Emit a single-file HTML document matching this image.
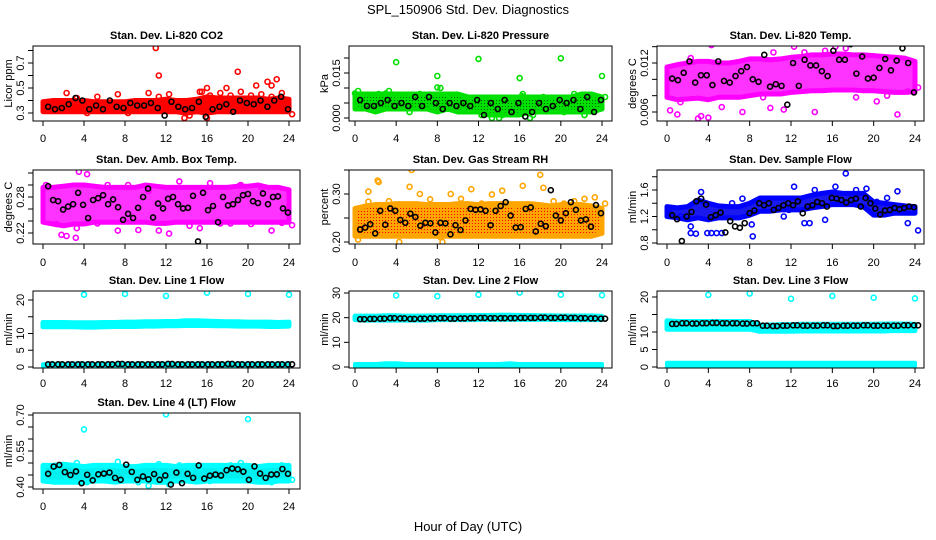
<!DOCTYPE html>
<html><head><meta charset="utf-8"><style>
body{margin:0;background:#fff;width:936px;height:540px;overflow:hidden}
svg{display:block;font-family:"Liberation Sans",sans-serif}
</style></head><body>
<svg id="chart" width="936" height="540" viewBox="0 0 936 540" xmlns="http://www.w3.org/2000/svg">
<defs>
<pattern id="pat-rh" width="3" height="3" patternUnits="userSpaceOnUse"><rect width="3" height="3" fill="#ffa500"/><rect x="1" y="1" width="1" height="1" fill="#ff0000"/></pattern>
<pattern id="pat-pr" width="3" height="3" patternUnits="userSpaceOnUse"><rect width="3" height="3" fill="#00e000"/><rect x="1" y="1" width="1" height="1" fill="#006600"/></pattern>
</defs>
<text x="468" y="14" text-anchor="middle" font-size="13">SPL_150906  Std. Dev. Diagnostics</text>
<text x="468" y="531" text-anchor="middle" font-size="13">Hour of Day (UTC)</text>
</svg>
<script>
const xTicks=[0,4,8,12,16,20,24];
// CO2
const co2Lo=[0.31,0.31,0.31,0.31,0.31,0.31,0.31,0.31,0.31,0.31,0.31,0.31,0.31,0.31,0.30,0.31,0.30,0.31,0.31,0.31,0.31,0.31,0.31,0.31,0.31];
const co2Hi=[0.39,0.40,0.40,0.40,0.40,0.39,0.39,0.39,0.39,0.40,0.40,0.40,0.41,0.40,0.40,0.41,0.43,0.42,0.42,0.42,0.42,0.42,0.41,0.42,0.41];
const co2Pts=[0.37,0.33,0.46,0.42,0.30,0.43,0.34,0.45,0.30,0.36,0.46,0.43,0.45,0.38,0.28,0.47,0.44,0.46,0.44,0.47,0.44,0.45,0.43,0.46,0.29];
const co2Out=[[11,0.82],[11.3,0.60],[19,0.63],[20.8,0.52],[21.9,0.55],[22.8,0.57],[13.8,0.26],[16,0.26],[15.5,0.47],[16,0.50],[17.9,0.50],[22.3,0.52]];
const co2Blk=[0.35,0.33,0.34,0.37,0.42,0.40,0.33,0.36,0.33,0.40,0.35,0.34,0.38,0.36,0.36,0.38,0.34,0.28,0.39,0.35,0.33,0.34,0.39,0.27,0.33,0.35,0.37,0.31,0.40,0.38,0.37,0.40,0.35,0.40,0.43,0.33];
// Pressure
const prLo=[0.003,0.003,0.002,0.003,0.003,0.003,0.003,0.003,0.002,0.003,0.002,0.002,0.002,0.001,0.001,0.001,0.001,0.002,0.002,0.002,0.002,0.002,0.002,0.002,0.003];
const prHi=[0.008,0.008,0.008,0.008,0.008,0.008,0.008,0.008,0.008,0.008,0.008,0.007,0.007,0.007,0.007,0.007,0.007,0.007,0.007,0.007,0.007,0.007,0.008,0.008,0.007];
const prPts=[0.009,0.004,0.008,0.009,0.007,0.002,0.008,0.003,0.010,0.007,0.003,0.006,0.001,0.000,0.001,0.005,0.008,0.001,0.007,0.006,0.002,0.008,0.001,0.007,0.007];
const prOut=[[4,0.0186],[8,0.0140],[8,0.0102],[12,0.0197],[16,0.0133],[16.2,0.0073],[20,0.0199],[24,0.0140],[0,0.0082],[3,0.0082],[14,0.0000],[17,0.0000]];
const prBlk=[0.006,0.004,0.004,0.005,0.006,0.004,0.005,0.004,0.007,0.004,0.007,0.005,0.003,0.005,0.004,0.005,0.004,0.006,0.001,0.005,0.003,0.006,0.002,0.005,0.0005,0.002,0.005,0.003,0.004,0.006,0.005,0.006,0.003,0.007,0.002,0.006];
// Li-820 temp
const tLo=[0.0078,0.0075,0.0076,0.0077,0.0075,0.0078,0.0078,0.0078,0.0080,0.0082,0.0082,0.0082,0.0084,0.0085,0.0086,0.0086,0.0087,0.0087,0.0087,0.0086,0.0086,0.0085,0.0084,0.0084,0.0085];
const tHi=[0.0115,0.0118,0.0120,0.0122,0.0122,0.0120,0.0120,0.0122,0.0125,0.0125,0.0124,0.0125,0.0127,0.0128,0.0130,0.0130,0.0131,0.0131,0.0130,0.0130,0.0129,0.0128,0.0127,0.0126,0.0122];
const tPts=[0.0062,0.0072,0.0126,0.0055,0.0142,0.0066,0.0145,0.0060,0.0147,0.0078,0.0133,0.0063,0.0140,0.0133,0.0060,0.0135,0.0140,0.0138,0.0078,0.0145,0.0073,0.0080,0.0057,0.0085,0.0090];
const tOut=[[3,0.0052],[4,0.0053],[1,0.0057],[10,0.0065]];
const tBlk=[0.0101,0.0099,0.0108,0.0122,0.0096,0.0105,0.0105,0.0093,0.0122,0.0098,0.0096,0.0104,0.0110,0.0115,0.0100,0.0097,0.0130,0.0091,0.0094,0.0092,0.0069,0.0120,0.0092,0.0124,0.0117,0.0117,0.0110,0.0104,0.0135,0.0124,0.0124,0.0143,0.0107,0.0128,0.0101,0.0102,0.0114,0.0125,0.0111,0.0123,0.0138,0.0120,0.0084];
// Amb box temp
const abLo=[0.238,0.235,0.232,0.235,0.235,0.238,0.238,0.238,0.238,0.238,0.238,0.236,0.236,0.238,0.238,0.238,0.238,0.238,0.238,0.238,0.238,0.238,0.238,0.238,0.238];
const abHi=[0.296,0.296,0.298,0.300,0.300,0.298,0.296,0.296,0.296,0.296,0.300,0.298,0.296,0.296,0.296,0.296,0.296,0.296,0.296,0.298,0.298,0.300,0.296,0.296,0.292];
const abPts=[0.300,0.235,0.215,0.228,0.318,0.236,0.300,0.224,0.300,0.225,0.290,0.224,0.219,0.306,0.232,0.228,0.303,0.236,0.236,0.300,0.235,0.296,0.224,0.237,0.233];
const abOut=[[3.5,0.322],[3.2,0.212],[1.8,0.217],[19.2,0.299]];
const abBlk=[0.298,0.275,0.273,0.259,0.264,0.268,0.287,0.267,0.245,0.275,0.278,0.283,0.268,0.276,0.263,0.242,0.252,0.245,0.262,0.280,0.294,0.246,0.269,0.261,0.277,0.280,0.268,0.261,0.262,0.282,0.206,0.287,0.258,0.265,0.238,0.280,0.266,0.268,0.275,0.283,0.285,0.273,0.270,0.286,0.268,0.280,0.281,0.261,0.254];
// RH
const rhLo=[0.212,0.212,0.212,0.212,0.212,0.212,0.212,0.212,0.212,0.212,0.212,0.212,0.212,0.212,0.212,0.212,0.212,0.212,0.212,0.212,0.212,0.212,0.212,0.212,0.218];
const rhHi=[0.270,0.275,0.278,0.278,0.280,0.280,0.280,0.278,0.278,0.278,0.280,0.280,0.278,0.280,0.280,0.280,0.280,0.280,0.278,0.275,0.278,0.278,0.278,0.275,0.270];
const rhPts=[0.205,0.284,0.325,0.285,0.200,0.315,0.300,0.289,0.210,0.300,0.290,0.310,0.280,0.299,0.307,0.270,0.317,0.275,0.313,0.285,0.280,0.285,0.290,0.293,0.280];
const rhOut=[[5.5,0.350],[1.3,0.305],[2.2,0.328],[18,0.340],[8.5,0.200]];
const rhBlk=[0.226,0.230,0.237,0.218,0.265,0.236,0.270,0.265,0.246,0.240,0.259,0.252,0.234,0.240,0.239,0.220,0.240,0.239,0.216,0.235,0.225,0.245,0.269,0.267,0.268,0.265,0.235,0.265,0.275,0.283,0.255,0.230,0.231,0.269,0.272,0.222,0.238,0.233,0.308,0.255,0.245,0.260,0.283,0.267,0.245,0.247,0.232,0.277,0.260];
// Sample flow
const sfLo=[1.20,1.18,1.15,1.18,1.15,1.18,1.18,1.18,1.22,1.28,1.28,1.30,1.30,1.30,1.33,1.35,1.38,1.38,1.38,1.35,1.22,1.22,1.25,1.25,1.25];
const sfHi=[1.35,1.33,1.35,1.45,1.40,1.36,1.35,1.35,1.40,1.48,1.48,1.48,1.48,1.48,1.52,1.55,1.57,1.55,1.55,1.55,1.42,1.40,1.38,1.36,1.35];
const sfPts=[1.25,1.20,0.95,1.57,0.95,0.95,1.40,1.47,0.90,1.45,1.30,1.20,1.65,1.10,1.60,1.15,1.65,1.85,1.60,1.62,1.42,1.48,1.58,1.10,0.99];
const sfOut=[[2.3,1.05],[2.8,0.94],[4.8,0.95],[3.9,0.95],[8.2,1.08],[13.8,1.10],[11.8,1.30]];
const sfBlk=[1.22,1.16,0.83,1.20,1.27,1.43,1.47,1.38,1.19,1.22,1.26,0.96,1.13,1.05,1.03,1.10,1.25,1.29,1.40,1.37,1.40,1.30,1.33,1.37,1.40,1.37,1.43,1.25,1.35,1.37,1.42,1.40,1.35,1.48,1.47,1.45,1.41,1.45,1.47,1.35,1.48,1.40,1.32,1.23,1.29,1.30,1.33,1.31,1.33,1.35,1.34];
// Line 1
const l1Lo=[12.0,12.0,12.0,12.0,11.9,11.9,12.0,12.1,12.1,12.1,12.2,12.2,12.3,12.3,12.4,12.4,12.4,12.3,12.3,12.2,12.2,12.2,12.1,12.1,12.2];
const l1Hi=[13.3,13.3,13.3,13.2,13.2,13.2,13.3,13.3,13.4,13.4,13.5,13.5,13.6,13.6,13.8,13.8,13.7,13.6,13.5,13.5,13.4,13.4,13.4,13.3,13.4];
const l1Low=[0.8,1.0,0.9,1.0,1.0,0.9,1.0,1.0,1.0,1.0,1.0,1.0,1.0,1.0,1.0,1.0,1.0,1.0,1.0,1.0,1.0,1.0,1.0,1.0,1.0];
const l1Out=[[4,21.6],[8,21.8],[12,21.2],[16,22.2],[20,21.8],[24,21.6]];
const l1Blk=[0.8,0.8,0.8,0.8,0.8,0.8,0.8,0.9,0.8,0.8,0.8,0.8,0.9,0.8,0.8,0.8,0.8,0.8,0.9,0.8,0.8,0.8,0.8,0.8,0.8];
// Line 2
const l2Lo=[19.2,19.0,19.0,19.0,19.0,19.0,19.0,19.0,19.2,19.2,19.2,19.2,19.3,19.3,19.3,19.3,19.3,19.3,19.3,19.3,19.2,19.2,19.2,19.2,19.2];
const l2Hi=[20.6,20.6,20.6,20.8,20.8,20.6,20.6,20.7,20.8,20.8,20.8,20.8,20.9,20.9,21.0,21.0,20.9,20.9,20.8,20.8,20.7,20.7,20.7,20.7,20.5];
const l2Low=[1.2,1.2,1.2,1.5,1.5,1.2,1.2,1.2,1.2,1.2,1.2,1.2,1.2,1.2,1.2,1.5,1.2,1.2,1.2,1.2,1.2,1.2,1.2,1.2,1.2];
const l2Out=[[4,29.0],[8,28.7],[12,29.3],[16,30.2],[20,29.3],[24,29.1]];
const l2Blk=[19.4,19.5,19.6,19.8,19.7,19.5,19.6,19.7,19.8,19.6,19.7,19.8,19.9,19.8,19.8,19.8,19.9,19.9,20.0,19.9,20.0,19.9,19.8,19.7,19.6];
// Line 3
const l3Lo=[10.8,10.8,10.8,10.8,10.8,10.8,10.8,10.8,10.8,10.2,10.2,10.2,10.2,10.3,10.3,10.3,10.3,10.3,10.3,10.3,10.3,10.3,10.4,10.4,10.4];
const l3Hi=[13.2,13.0,13.0,13.0,13.0,13.0,13.0,13.0,13.0,12.0,12.0,12.1,12.1,12.2,12.2,12.2,12.2,12.2,12.2,12.2,12.2,12.3,12.3,12.3,12.2];
const l3Low=[1.2,1.2,1.2,1.2,1.2,1.2,1.2,1.2,1.2,1.2,1.2,1.2,1.2,1.2,1.2,1.2,1.2,1.2,1.2,1.2,1.2,1.2,1.2,1.2,1.2];
const l3Out=[[4,20.6],[8,21.0],[12,19.5],[16,20.3],[20,19.8],[24,19.6]];
const l3Blk=[12.3,12.5,12.4,12.5,12.6,12.5,12.5,12.4,12.5,11.8,11.7,11.8,11.9,11.8,11.8,11.9,11.7,11.8,11.8,11.9,11.8,11.8,11.8,11.9,11.9];
// Line 4
const l4Lo=[0.425,0.420,0.420,0.420,0.420,0.425,0.425,0.420,0.425,0.425,0.425,0.420,0.420,0.425,0.425,0.420,0.425,0.425,0.425,0.425,0.425,0.420,0.420,0.425,0.425];
const l4Hi=[0.490,0.490,0.495,0.490,0.485,0.490,0.490,0.490,0.485,0.485,0.490,0.490,0.490,0.485,0.490,0.490,0.490,0.490,0.490,0.490,0.490,0.485,0.490,0.490,0.490];
const l4Pts=[0.430,0.480,0.445,0.500,0.420,0.460,0.470,0.505,0.440,0.420,0.405,0.495,0.412,0.490,0.470,0.480,0.425,0.480,0.490,0.500,0.430,0.440,0.420,0.490,0.430];
const l4Out=[[4,0.640],[12,0.703],[20,0.683]];
const l4Blk=[0.455,0.485,0.492,0.462,0.450,0.465,0.416,0.451,0.428,0.453,0.456,0.460,0.438,0.430,0.493,0.463,0.430,0.444,0.432,0.454,0.430,0.448,0.410,0.460,0.416,0.455,0.438,0.490,0.435,0.447,0.452,0.448,0.470,0.477,0.474,0.464,0.430,0.486,0.456,0.438,0.452,0.453,0.475,0.455];

const cols=[[33,300,43,289],[349,612,355,602],[657,924,667,915]];
const rows=[[46,121,138],[170,244,262],[291,368,383],[413,489,506]];
const panels=[
 {n:'co2',t:'Stan. Dev. Li-820 CO2',yl:'Licor ppm',c:'#ff0000',f:'#ff0000',col:0,row:0,m:[0.3,113,0.7,63],ticks:[0.3,0.4,0.5,0.6,0.7,0.8],lab:['0.3','','0.5','','0.7',''],lo:co2Lo,hi:co2Hi,pts:co2Pts,out:co2Out,blk:co2Blk},
 {n:'pressure',t:'Stan. Dev. Li-820 Pressure',yl:'kPa',c:'#00e000',f:'url(#pat-pr)',col:1,row:0,m:[0,118,0.015,73],ticks:[0,0.005,0.01,0.015,0.02],lab:['0.000','','','0.015',''],lo:prLo,hi:prHi,pts:prPts,out:prOut,blk:prBlk},
 {n:'temp',t:'Stan. Dev. Li-820 Temp.',yl:'degrees C',c:'#ff00ff',f:'#ff33ff',col:2,row:0,m:[0.006,112,0.012,63],ticks:[0.006,0.008,0.01,0.012,0.014],lab:['0.006','','','0.012',''],lo:tLo,hi:tHi,pts:tPts,out:tOut,blk:tBlk},
 {n:'ambbox',t:'Stan. Dev. Amb. Box Temp.',yl:'degrees C',c:'#ff00ff',f:'#ff33ff',col:0,row:1,m:[0.22,233,0.28,197],ticks:[0.22,0.24,0.26,0.28,0.30,0.32],lab:['0.22','','','0.28','',''],lo:abLo,hi:abHi,pts:abPts,out:abOut,blk:abBlk},
 {n:'rh',t:'Stan. Dev. Gas Stream RH',yl:'percent',c:'#ffa500',f:'url(#pat-rh)',col:1,row:1,m:[0.2,242,0.3,194],ticks:[0.2,0.25,0.3,0.35],lab:['0.20','','0.30',''],lo:rhLo,hi:rhHi,pts:rhPts,out:rhOut,blk:rhBlk},
 {n:'sampleflow',t:'Stan. Dev. Sample Flow',yl:'ml/min',c:'#0000ff',f:'#1a1aee',col:2,row:1,m:[0.8,243,1.6,190],ticks:[0.8,1.0,1.2,1.4,1.6,1.8],lab:['0.8','','1.2','','1.6',''],lo:sfLo,hi:sfHi,pts:sfPts,out:sfOut,blk:sfBlk},
 {n:'line1',t:'Stan. Dev. Line 1 Flow',yl:'ml/min',c:'#00ffff',f:'#00f0f0',col:0,row:2,m:[0,367,20,300],ticks:[0,5,10,15,20],lab:['0','5','10','','20'],lo:l1Lo,hi:l1Hi,low:l1Low,out:l1Out,blk:l1Blk},
 {n:'line2',t:'Stan. Dev. Line 2 Flow',yl:'ml/min',c:'#00ffff',f:'#00f0f0',col:1,row:2,m:[0,367,30,293],ticks:[0,10,20,30],lab:['0','10','20','30'],lo:l2Lo,hi:l2Hi,low:l2Low,out:l2Out,blk:l2Blk},
 {n:'line3',t:'Stan. Dev. Line 3 Flow',yl:'ml/min',c:'#00ffff',f:'#00f0f0',col:2,row:2,m:[0,367,20,297],ticks:[0,5,10,15,20],lab:['0','5','10','','20'],lo:l3Lo,hi:l3Hi,low:l3Low,out:l3Out,blk:l3Blk},
 {n:'line4',t:'Stan. Dev. Line 4 (LT) Flow',yl:'ml/min',c:'#00ffff',f:'#00f0f0',col:0,row:3,m:[0.4,487,0.7,415],ticks:[0.4,0.45,0.5,0.55,0.6,0.65,0.7],lab:['0.40','','','0.55','','','0.70'],lo:l4Lo,hi:l4Hi,pts:l4Pts,out:l4Out,blk:l4Blk}
];
const NS='http://www.w3.org/2000/svg';
const svg=document.getElementById('chart');
function mk(tag,at,par){const e=document.createElementNS(NS,tag);for(const k in at)e.setAttribute(k,at[k]);(par||svg).appendChild(e);return e;}
panels.forEach(p=>{
 const [bx0,bx1,h0,h24]=cols[p.col];const [by0,by1,ly]=rows[p.row];
 const X=h=>h0+h*(h24-h0)/24;
 const Y=v=>p.m[1]+(v-p.m[0])*(p.m[3]-p.m[1])/(p.m[2]-p.m[0]);
 const g=mk('g',{});
 
 
 const clip=mk('clipPath',{id:'clip-'+p.n},g);mk('rect',{x:bx0,y:by0,width:bx1-bx0,height:by1-by0},clip);
 const dg=mk('g',{'clip-path':'url(#clip-'+p.n+')'},g);
 const hrs=p.lo.map((_,i)=>i*24/(p.lo.length-1));
 let d='M'+hrs.map((h,i)=>X(h)+','+Y(p.hi[i])).join('L')+'L'+hrs.slice().reverse().map((h,j)=>X(h)+','+Y(p.lo[p.lo.length-1-j])).join('L')+'Z';
 const band=mk('path',{d:d,fill:p.f,stroke:p.c,'stroke-width':5,'stroke-linejoin':'round'},dg);
 
 
 if(p.low){
  let d2='M'+hrs.map((h,i)=>X(h)+','+Y(p.low[i])).join('L')+'L'+X(24)+','+Y(0)+'L'+X(0)+','+Y(0)+'Z';
  const lb=mk('path',{d:d2,fill:p.c,stroke:p.c,'stroke-width':4,'stroke-linejoin':'round'},dg);
  
  
 }
 const circ=(h,v,col,nm)=>{const c=mk('circle',{cx:X(h),cy:Y(v),r:2.5,fill:'none',stroke:col,'stroke-width':1.6},dg);
  
  };
 if(p.pts)p.pts.forEach((v,i)=>circ(i*24/(p.pts.length-1)+0.3,v,p.c,'point-'+p.n));
 p.out.forEach(o=>circ(o[0],o[1],p.c,'outlier-'+p.n));
 p.blk.forEach((v,i)=>circ(0.5+i*23.4/(p.blk.length-1),v,'#000','black-point-'+p.n));
 if(p.low){p.blk.forEach((v,i)=>circ(0.9+i*23.4/(p.blk.length-1),v,'#000','black-point-'+p.n));}
 const box=mk('rect',{x:bx0,y:by0,width:bx1-bx0,height:by1-by0,fill:'none',stroke:'#000','stroke-width':1},g);
 
 
 const tt=mk('text',{x:(bx0+bx1)/2,y:by0-7,'text-anchor':'middle','font-size':11,'font-weight':'bold'},g);tt.textContent=p.t;
 
 
 xTicks.forEach(h=>{mk('line',{x1:X(h),x2:X(h),y1:by1,y2:by1+5,stroke:'#000'},g);
  const t=mk('text',{x:X(h),y:ly+4,'text-anchor':'middle','font-size':11},g);t.textContent=h;
  
  });
 p.ticks.forEach((v,i)=>{mk('line',{x1:bx0-5,x2:bx0,y1:Y(v),y2:Y(v),stroke:'#000'},g);
  if(p.lab[i]){const t=mk('text',{x:0,y:0,'text-anchor':'middle','font-size':11,transform:'translate('+(bx0-9)+','+Y(v)+') rotate(-90)'},g);t.textContent=p.lab[i];
  
  }});
 const yt=mk('text',{x:0,y:0,'text-anchor':'middle','font-size':11,transform:'translate('+(bx0-21)+','+(by0+by1)/2+') rotate(-90)'},g);yt.textContent=p.yl;
 
 
});
</script>
</body></html>
